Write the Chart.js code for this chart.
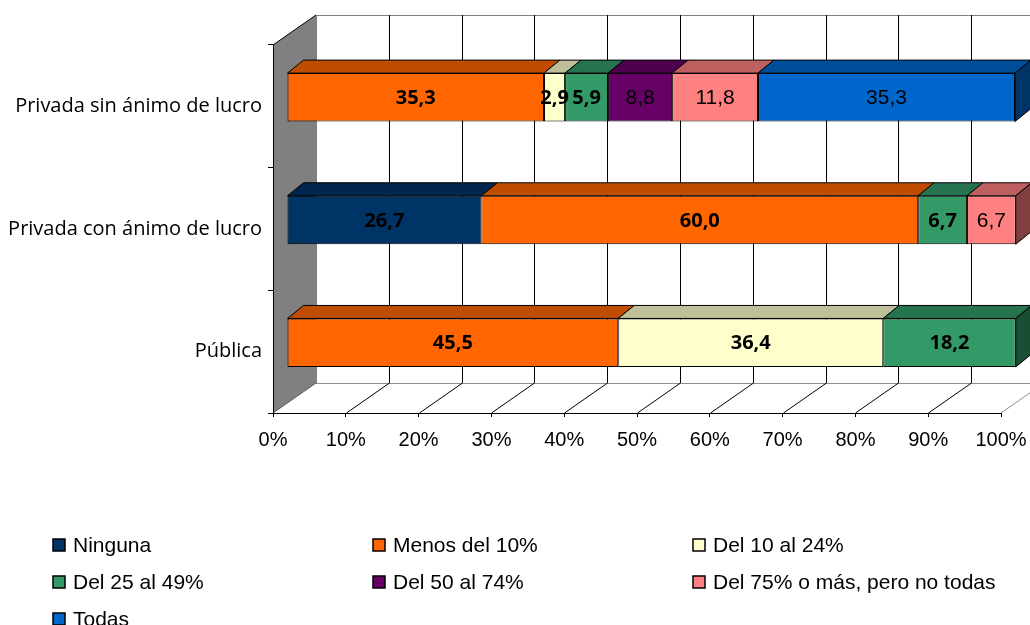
<!DOCTYPE html>
<html lang="es">
<head>
    <meta charset="UTF-8">
    <title>Proporción por tipo de institución</title>
    <script src="https://cdn.jsdelivr.net/npm/chart.js"></script>
    <style>
        html, body { margin: 0; padding: 0; background: #ffffff; }
        .chart-container { position: relative; width: 1030px; height: 625px; }
    </style>
</head>
<body>
    <div class="chart-container">
        <canvas id="institutionChart" width="1030" height="625"></canvas>
    </div>

    <script>
        // Categories (top to bottom) and one array per series, in percent
        const categories = ["Privada sin ánimo de lucro", "Privada con ánimo de lucro", "Pública"];
        const seriesNames = ["Ninguna", "Menos del 10%", "Del 10 al 24%", "Del 25 al 49%",
                             "Del 50 al 74%", "Del 75% o más, pero no todas", "Todas"];
        const ninguna    = [null, 26.7, null];
        const menos10    = [35.3, 60.0, 45.5];
        const del10al24  = [2.9, null, 36.4];
        const del25al49  = [5.9, 6.7, 18.2];
        const del50al74  = [8.8, null, null];
        const del75      = [11.8, 6.7, null];
        const todas      = [35.3, null, null];
        const xTicks     = [0, 10, 20, 30, 40, 50, 60, 70, 80, 90, 100];

        // Face colours: front, top and right side of each box
        const frontColors = ["#003366", "#FF6600", "#FFFFCC", "#339966", "#660066", "#FF8080", "#0066CC"];
        const topColors   = ["#00264D", "#BF4C00", "#BFBF99", "#267350", "#4D004D", "#BF6060", "#004D99"];
        const sideColors  = ["#001A33", "#803300", "#808066", "#1A4D33", "#330033", "#804040", "#003366"];
        const boldLabels  = [true, true, true, true, false, false, false];

        const seriesData = [ninguna, menos10, del10al24, del25al49, del50al74, del75, todas];

        // 3D offsets: back wall depth, bar front shift, bar depth
        const WALL = { x: 43, y: -30 };
        const SHIFT = { x: 14, y: -9 };
        const DEPTH = { x: 16, y: -13 };

        function line(ctx, x1, y1, x2, y2, color) {
            ctx.strokeStyle = color;
            ctx.beginPath();
            ctx.moveTo(x1, y1);
            ctx.lineTo(x2, y2);
            ctx.stroke();
        }

        function poly(ctx, pts, fill) {
            ctx.beginPath();
            ctx.moveTo(pts[0][0], pts[0][1]);
            for (let k = 1; k < pts.length; k++) ctx.lineTo(pts[k][0], pts[k][1]);
            ctx.closePath();
            ctx.fillStyle = fill;
            ctx.fill();
            ctx.strokeStyle = "#000000";
            ctx.stroke();
        }

        // Walls, floor and gridlines of the 3D box
        const wallsPlugin = {
            id: "walls",
            beforeDraw(chart) {
                const { ctx, chartArea: a, scales: { x } } = chart;
                const backTop = a.top + WALL.y;
                const backBottom = a.bottom + WALL.y;
                const backLeft = a.left + WALL.x;
                ctx.save();
                ctx.lineWidth = 1;

                // side wall
                ctx.fillStyle = "#808080";
                ctx.beginPath();
                ctx.moveTo(a.left, a.top);
                ctx.lineTo(backLeft, backTop);
                ctx.lineTo(backLeft, backBottom);
                ctx.lineTo(a.left, a.bottom);
                ctx.closePath();
                ctx.fill();

                // back wall and floor outline
                line(ctx, backLeft, backTop + 0.5, chart.width, backTop + 0.5, "#808080");
                line(ctx, backLeft + 0.5, backTop, backLeft + 0.5, backBottom, "#808080");
                line(ctx, backLeft, backBottom + 0.5, x.getPixelForValue(100) + WALL.x, backBottom + 0.5, "#8c8c8c");
                line(ctx, x.getPixelForValue(100), a.bottom, x.getPixelForValue(100) + WALL.x, backBottom, "#8c8c8c");

                // gridlines on the back wall and across the floor
                xTicks.forEach(v => {
                    if (v === 0 || v === 100) return;
                    const px = Math.round(x.getPixelForValue(v)) + 0.5;
                    line(ctx, px + WALL.x, backTop, px + WALL.x, backBottom, "#000000");
                    line(ctx, px, a.bottom, px + WALL.x, backBottom, "#000000");
                });

                // side wall edges
                line(ctx, a.left, a.top, backLeft, backTop, "#000000");
                line(ctx, a.left, a.bottom, backLeft, backBottom, "#595959");
                ctx.restore();
            },
            beforeDatasetsDraw(chart) {
                const { ctx } = chart;
                ctx.save();
                ctx.translate(SHIFT.x, SHIFT.y);
                ctx.lineWidth = 1;

                categories.forEach((cat, j) => {
                    let last = -1;
                    seriesData.forEach((d, i) => { if (d[j] != null) last = i; });
                    seriesData.forEach((d, i) => {
                        if (d[j] == null) return;
                        const bar = chart.getDatasetMeta(i).data[j];
                        const x0 = Math.min(bar.base, bar.x);
                        const x1 = Math.max(bar.base, bar.x);
                        const yTop = bar.y - bar.height / 2;
                        const yBot = bar.y + bar.height / 2;
                        poly(ctx, [[x0, yTop], [x1, yTop], [x1 + DEPTH.x, yTop + DEPTH.y], [x0 + DEPTH.x, yTop + DEPTH.y]], topColors[i]);
                        if (i === last) {
                            poly(ctx, [[x1, yTop], [x1 + DEPTH.x, yTop + DEPTH.y], [x1 + DEPTH.x, yBot + DEPTH.y], [x1, yBot]], sideColors[i]);
                        }
                    });
                });
            },
            afterDatasetsDraw(chart) {
                const { ctx } = chart;
                ctx.textAlign = "center";
                ctx.textBaseline = "middle";
                ctx.fillStyle = "#000000";
                seriesData.forEach((d, i) => {
                    ctx.font = boldLabels[i] ? "bold 20px 'Open Sans'" : "21px 'Liberation Sans'";
                    chart.getDatasetMeta(i).data.forEach((bar, j) => {
                        if (d[j] == null) return;
                        const label = d[j].toFixed(1).replace(".", ",");
                        ctx.fillText(label, (bar.x + bar.base) / 2, bar.y + 1);
                    });
                });
                ctx.restore();
            },
            afterDraw(chart) {
                // legend in three columns
                const { ctx } = chart;
                ctx.save();
                ctx.font = "21px 'Liberation Sans'";
                ctx.textAlign = "left";
                ctx.textBaseline = "middle";
                chart.data.datasets.forEach((ds, i) => {
                    const col = i % 3;
                    const row = Math.floor(i / 3);
                    const bx = 53 + col * 320;
                    const by = 545 + row * 37;
                    ctx.fillStyle = ds.backgroundColor;
                    ctx.fillRect(bx, by - 6, 12, 12);
                    ctx.strokeStyle = "#000000";
                    ctx.lineWidth = 1.5;
                    ctx.strokeRect(bx, by - 6, 12, 12);
                    ctx.fillStyle = "#000000";
                    ctx.fillText(ds.label, bx + 20, by + 1);
                });
                ctx.restore();
            }
        };

        const ctx = document.getElementById("institutionChart").getContext("2d");

        const institutionChart = new Chart(ctx, {
            type: "bar",
            data: {
                labels: categories,
                datasets: seriesData.map((d, i) => ({
                    label: seriesNames[i],
                    data: d,
                    backgroundColor: frontColors[i],
                    borderColor: "#000000",
                    borderWidth: 1,
                    borderSkipped: false,
                    barPercentage: 0.395,
                    categoryPercentage: 1,
                    clip: false
                }))
            },
            options: {
                indexAxis: "y",
                responsive: false,
                animation: false,
                layout: { padding: { top: 45, right: 29, left: 0, bottom: 0 } },
                plugins: {
                    legend: { display: false },
                    tooltip: { enabled: false }
                },
                scales: {
                    x: {
                        stacked: true,
                        min: 0,
                        max: 100,
                        afterFit: scale => {
                            scale.height = 212;
                            scale.paddingLeft = 0;
                            scale.paddingRight = 0;
                        },
                        afterBuildTicks: scale => { scale.ticks = xTicks.map(v => ({ value: v })); },
                        ticks: {
                            callback: v => v + "%",
                            color: "#000000",
                            font: { family: "'Liberation Sans'", size: 20 },
                            padding: 11,
                            maxRotation: 0
                        },
                        grid: { drawOnChartArea: false, tickLength: 4, color: "#000000" },
                        border: { color: "#000000" }
                    },
                    y: {
                        stacked: true,
                        afterFit: scale => { scale.width = 273; },
                        ticks: {
                            color: "#000000",
                            font: { family: "'Open Sans'", size: 20 },
                            padding: 6
                        },
                        grid: { drawOnChartArea: false, tickLength: 5, color: "#000000", offset: true },
                        border: { color: "#000000" }
                    }
                }
            },
            plugins: [wallsPlugin]
        });
    </script>
</body>
</html>
